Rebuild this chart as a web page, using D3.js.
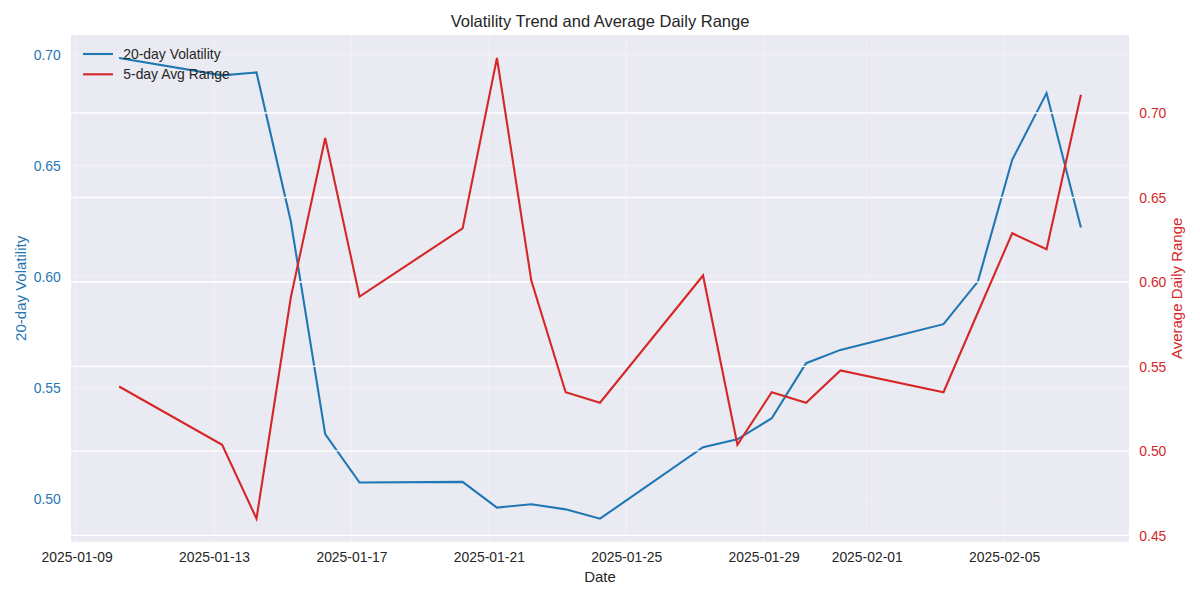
<!DOCTYPE html>
<html>
<head>
<meta charset="utf-8">
<script src="https://cdn.jsdelivr.net/npm/d3@7"></script>
<style>
  html, body { margin: 0; padding: 0; background: #ffffff; }
  svg { display: block; }
  text { font-family: "Liberation Sans", Arial, "DejaVu Sans", sans-serif; }
</style>
</head>
<body>
<svg id="chart" width="1200" height="600"></svg>
<script>
// ---- data ----
const dates = ["2025-01-10","2025-01-13","2025-01-14","2025-01-15","2025-01-16","2025-01-17",
  "2025-01-20","2025-01-21","2025-01-22","2025-01-23","2025-01-24",
  "2025-01-27","2025-01-28","2025-01-29","2025-01-30","2025-01-31",
  "2025-02-03","2025-02-04","2025-02-05","2025-02-06","2025-02-07"];
const timeOfDay = "T05:40:00";
const volatility = [0.6985,0.6907,0.6920,0.6248,0.5289,0.5071,
  0.5074,0.4958,0.4973,0.4950,0.4908,
  0.5230,0.5266,0.5361,0.5609,0.5669,
  0.5785,0.5977,0.6526,0.6827,0.6221];
const avgRange = [0.5381,0.5036,0.4599,0.5909,0.6852,0.5913,
  0.6317,0.7325,0.6008,0.5347,0.5285,
  0.6038,0.5036,0.5347,0.5285,0.5476,
  0.5347,0.5819,0.6288,0.6193,0.7108];
const xTickLabels = ["2025-01-09","2025-01-13","2025-01-17","2025-01-21","2025-01-25","2025-01-29","2025-02-01","2025-02-05"];
const leftTicks = [0.50,0.55,0.60,0.65,0.70];
const rightTicks = [0.45,0.50,0.55,0.60,0.65,0.70];
const seriesNames = ["20-day Volatility","5-day Avg Range"];
const title = "Volatility Trend and Average Daily Range";

// ---- layout ----
const W = 1200, H = 600;
const M = {left: 71, right: 71, top: 35, bottom: 58.3};
const iw = W - M.left - M.right, ih = H - M.top - M.bottom;
const BLUE = "#1f77b4", RED = "#d62728", TXT = "#262626", BG = "#eaeaf2";
const FS = 13.9, LFS = 15;

const parse = d3.utcParse("%Y-%m-%dT%H:%M:%S");
const parseDay = d3.utcParse("%Y-%m-%d");
const t = dates.map(d => parse(d + timeOfDay));

function padded(ext) {
  const r = ext[1] - ext[0];
  return [ext[0] - 0.05 * r, ext[1] + 0.05 * r];
}
const tExt = d3.extent(t);
const tPad = (tExt[1] - tExt[0]) * 0.05;
const x = d3.scaleUtc().domain([new Date(+tExt[0] - tPad), new Date(+tExt[1] + tPad)]).range([0, iw]);
const yL = d3.scaleLinear().domain(padded(d3.extent(volatility))).range([ih, 0]);
const yR = d3.scaleLinear().domain(padded(d3.extent(avgRange))).range([ih, 0]);

const svg = d3.select("#chart");
const g = svg.append("g").attr("transform", `translate(${M.left},${M.top})`);

g.append("rect").attr("width", iw).attr("height", ih).attr("fill", BG);

const xTicks = xTickLabels.map(parseDay);

// faint ax1 grid
const faint = g.append("g").attr("stroke", "#ffffff").attr("stroke-opacity", 0.3).attr("stroke-width", 1.2);
faint.selectAll("line.vx").data(xTicks).join("line")
  .attr("x1", d => x(d)).attr("x2", d => x(d)).attr("y1", 0).attr("y2", ih);
faint.selectAll("line.hy").data(leftTicks).join("line")
  .attr("x1", 0).attr("x2", iw).attr("y1", d => yL(d)).attr("y2", d => yL(d));

svg.append("defs").append("clipPath").attr("id", "clip")
  .append("rect").attr("width", iw).attr("height", ih);

// blue line
g.append("path").datum(volatility)
  .attr("clip-path", "url(#clip)")
  .attr("fill", "none").attr("stroke", BLUE).attr("stroke-width", 2.1)
  .attr("stroke-linejoin", "miter").attr("stroke-linecap", "butt")
  .attr("d", d3.line().x((d, i) => x(t[i])).y(d => yL(d)));

// ax2 grid (solid white) drawn over blue
g.append("g").attr("stroke", "#ffffff").attr("stroke-width", 1.4)
  .selectAll("line").data(rightTicks).join("line")
  .attr("x1", 0).attr("x2", iw).attr("y1", d => yR(d)).attr("y2", d => yR(d));

// red line
g.append("path").datum(avgRange)
  .attr("clip-path", "url(#clip)")
  .attr("fill", "none").attr("stroke", RED).attr("stroke-width", 2.1)
  .attr("stroke-linejoin", "miter").attr("stroke-linecap", "butt")
  .attr("d", d3.line().x((d, i) => x(t[i])).y(d => yR(d)));

// axes (tick labels only, seaborn style)
const xAxis = g.append("g").attr("transform", `translate(0,${ih})`)
  .call(d3.axisBottom(x).tickValues(xTicks).tickSize(0).tickPadding(0).tickFormat(d3.utcFormat("%Y-%m-%d")));
xAxis.select(".domain").remove();
xAxis.selectAll("text").attr("y", 20).attr("dy", 0).attr("fill", TXT)
  .style("font-size", FS + "px").style("font-family", '"Liberation Sans", Arial, sans-serif');

const lAxis = g.append("g")
  .call(d3.axisLeft(yL).tickValues(leftTicks).tickSize(0).tickPadding(0).tickFormat(d3.format(".2f")));
lAxis.select(".domain").remove();
lAxis.selectAll("text").attr("x", -10.3).attr("dy", "0.35em").attr("fill", BLUE)
  .style("font-size", FS + "px").style("font-family", '"Liberation Sans", Arial, sans-serif');

const rAxis = g.append("g").attr("transform", `translate(${iw},0)`)
  .call(d3.axisRight(yR).tickValues(rightTicks).tickSize(0).tickPadding(0).tickFormat(d3.format(".2f")));
rAxis.select(".domain").remove();
rAxis.selectAll("text").attr("x", 10.3).attr("dy", "0.35em").attr("fill", RED)
  .style("font-size", FS + "px").style("font-family", '"Liberation Sans", Arial, sans-serif');

// labels
svg.append("text").attr("x", M.left + iw / 2).attr("y", 26.5).attr("text-anchor", "middle")
  .attr("fill", TXT).style("font-size", "16.5px").text(title);
svg.append("text").attr("x", M.left + iw / 2).attr("y", 582).attr("text-anchor", "middle")
  .attr("fill", TXT).style("font-size", LFS + "px").text("Date");
svg.append("text").attr("transform", `translate(25.5,${M.top + ih / 2}) rotate(-90)`)
  .attr("text-anchor", "middle").attr("fill", BLUE).style("font-size", LFS + "px").text("20-day Volatility");
svg.append("text").attr("transform", `translate(1181.5,${M.top + ih / 2}) rotate(-90)`)
  .attr("text-anchor", "middle").attr("fill", RED).style("font-size", LFS + "px").text("Average Daily Range");

// legend
const legend = svg.append("g");
const legY = [54, 74.3];
[BLUE, RED].forEach((c, i) => {
  legend.append("line").attr("x1", 83).attr("x2", 113).attr("y1", legY[i]).attr("y2", legY[i])
    .attr("stroke", c).attr("stroke-width", 2.1);
  legend.append("text").attr("x", 123.3).attr("y", legY[i] + 5).attr("fill", TXT)
    .style("font-size", FS + "px").text(seriesNames[i]);
});
</script>
</body>
</html>
